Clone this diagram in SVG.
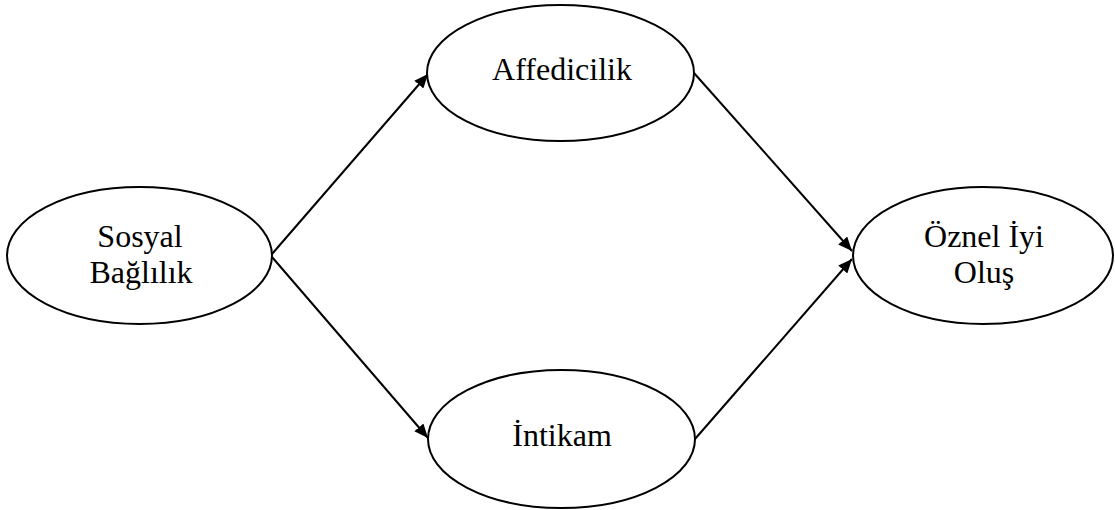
<svg xmlns="http://www.w3.org/2000/svg" width="1115" height="510" viewBox="0 0 1115 510">
  <style>
    .node ellipse { fill: #ffffff; stroke: #000000; stroke-width: 2; }
    .node text { font-family: "Liberation Serif", "DejaVu Serif", serif; font-size: 32px; fill: #000000; text-anchor: middle; }
    .edge { stroke: #000000; stroke-width: 2; fill: none; marker-end: url(#arrow); }
  </style>
  <defs>
    <marker id="arrow" viewBox="0 0 14 12" refX="14" refY="6" markerWidth="14" markerHeight="12" markerUnits="userSpaceOnUse" orient="auto">
      <path d="M0,0 L14,6 L0,12 Z" fill="#000000"/>
    </marker>
  </defs>
  <rect width="1115" height="510" fill="#ffffff"/>

  <g id="connectors">
    <line class="edge" x1="272" y1="254" x2="428" y2="74"/>
    <line class="edge" x1="272" y1="257" x2="428" y2="438"/>
    <line class="edge" x1="694" y1="73" x2="852" y2="251"/>
    <line class="edge" x1="695" y1="439" x2="852" y2="259"/>
  </g>

  <g id="sosyal-baglilik" class="node">
    <ellipse cx="139.5" cy="255.5" rx="132.5" ry="68.5"/>
    <text x="140" y="247">Sosyal</text>
    <text x="141" y="283">Bağlılık</text>
  </g>

  <g id="affedicilik" class="node">
    <ellipse cx="560.5" cy="73" rx="133.5" ry="68"/>
    <text x="562" y="80">Affedicilik</text>
  </g>

  <g id="intikam" class="node">
    <ellipse cx="561.5" cy="439" rx="133.5" ry="69"/>
    <text x="562" y="446">İntikam</text>
  </g>

  <g id="oznel-iyi-olus" class="node">
    <ellipse cx="983" cy="255.5" rx="130" ry="68.5"/>
    <text x="984" y="247">Öznel İyi</text>
    <text x="984" y="283">Oluş</text>
  </g>
</svg>
